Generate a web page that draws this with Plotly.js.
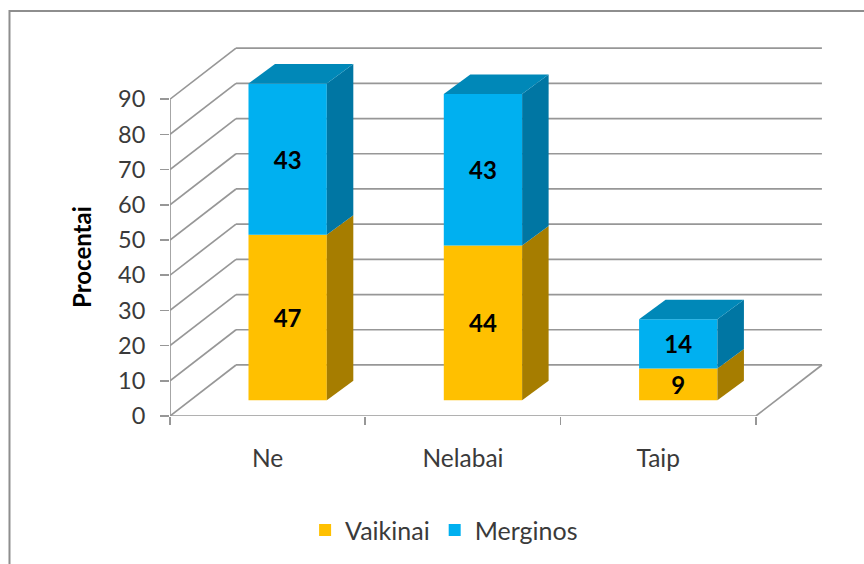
<!DOCTYPE html>
<html>
<head>
<meta charset="utf-8">
<script src="https://cdn.plot.ly/plotly-3.0.1.min.js"></script>
<style>html,body{margin:0;padding:0;background:#fff;overflow:hidden}#c{width:864px;height:564px}</style>
</head>
<body>
<div id="c"></div>
<script>
var categories = ['Ne', 'Nelabai', 'Taip'];
var vaikinai = [47, 44, 9];
var merginos = [43, 43, 14];
var yTicks = [0, 10, 20, 30, 40, 50, 60, 70, 80, 90];
var xBoundaries = [0, 1, 2, 3];
var xCenters = [0.5, 1.5, 2.5];

// oblique projection of the depth axis, in axis units
var wallDX = 0.338, wallDY = 14.5;
var frontDX = 0.1024, frontDY = 4.46;
var depthDX = 0.1357, depthDY = 5.54;
var barWidth = 0.401;
var gridColor = '#979797';
var textColor = '#3a3a3a';
var fontName = 'Lato, Carlito, sans-serif';

var barX = xCenters.map(function (c) { return c + frontDX; });
var base1 = vaikinai.map(function () { return frontDY; });
var base2 = vaikinai.map(function (v) { return v + frontDY; });
var top2 = merginos.map(function (v, i) { return base2[i] + v; });

function gline(x0, y0, x1, y1) {
  return {type: 'line', xref: 'x', yref: 'y', x0: x0, y0: y0, x1: x1, y1: y1, layer: 'below',
          line: {color: gridColor, width: 1.7}};
}
var shapes = [];
yTicks.forEach(function (v) {
  shapes.push(gline(0, v, wallDX, v + wallDY));
  shapes.push(gline(wallDX, v + wallDY, 3 + wallDX, v + wallDY));
});
shapes.push(gline(0, 0, 0, 90));
shapes.push(gline(0, 0, 3, 0));
shapes.push(gline(3, 0, 3 + wallDX, wallDY));
shapes.push({type: 'rect', xref: 'paper', yref: 'paper', x0: -0.2458, x1: 1.2, y0: -0.6, y1: 1.0976, layer: 'below',
             line: {color: '#8e8e8e', width: 2}, fillcolor: 'rgba(0,0,0,0)'});

function poly(xs, ys, color) {
  return {type: 'scatter', mode: 'lines', x: xs, y: ys, fill: 'toself', fillcolor: color,
          line: {width: 0, color: color}, hoverinfo: 'skip', showlegend: false};
}
function sideFace(i, lo, hi, color) {
  var r = barX[i] + barWidth / 2;
  return poly([r, r + depthDX, r + depthDX, r, r], [lo, lo + depthDY, hi + depthDY, hi, lo], color);
}
function topFace(i, h, color) {
  var l = barX[i] - barWidth / 2, r = barX[i] + barWidth / 2;
  return poly([l, r, r + depthDX, l + depthDX, l], [h, h, h + depthDY, h + depthDY, h], color);
}

var traces = [
  {type: 'bar', name: 'Vaikinai', x: barX, y: vaikinai, base: base1, width: barWidth,
   marker: {color: '#FFC000', line: {width: 0}}, text: vaikinai.map(String), textposition: 'inside',
   insidetextanchor: 'middle', textangle: 0, constraintext: 'none',
   insidetextfont: {family: fontName, size: 24, color: '#000', weight: 'bold'}, hoverinfo: 'skip'},
  {type: 'bar', name: 'Merginos', x: barX, y: merginos, base: base2, width: barWidth,
   marker: {color: '#00B0F0', line: {width: 0}}, text: merginos.map(String), textposition: 'inside',
   insidetextanchor: 'middle', textangle: 0, constraintext: 'none',
   insidetextfont: {family: fontName, size: 24, color: '#000', weight: 'bold'}, hoverinfo: 'skip'}
];
categories.forEach(function (c, i) {
  traces.push(sideFace(i, base1[i], base2[i], '#A67D00'));
  traces.push(sideFace(i, base2[i], top2[i], '#0076A3'));
  traces.push(topFace(i, top2[i], '#0088B8'));
});

var layout = {
  width: 864, height: 564,
  margin: {l: 170, r: 41, t: 47, b: 148},
  paper_bgcolor: '#fff', plot_bgcolor: '#fff',
  barmode: 'overlay',
  shapes: shapes,
  showlegend: true,
  legend: {orientation: 'h', x: 0.514, xref: 'container', xanchor: 'center', y: 0.06, yref: 'container', yanchor: 'middle',
           traceorder: 'normal', font: {family: fontName, size: 25, color: textColor}},
  xaxis: {range: [0, 653 / 195.3], tickmode: 'array', tickvals: xCenters, ticktext: categories,
          ticks: '', ticklen: 0, showgrid: false, zeroline: false, showline: false,
          ticklabelstandoff: 25, tickfont: {family: fontName, size: 24.5, color: textColor},
          minor: {ticks: 'outside', tickmode: 'array', tickvals: xBoundaries, ticklen: 8, tickwidth: 1.7, tickcolor: gridColor, showgrid: false}},
  yaxis: {range: [0, 369 / 3.52], tickmode: 'array', tickvals: yTicks, ticks: 'outside', ticklen: 9,
          tickwidth: 1.7, tickcolor: gridColor, showgrid: false, zeroline: false, showline: false,
          ticklabelstandoff: 10,
          tickfont: {family: fontName, size: 23.5, color: textColor}},
  annotations: [{text: 'Procentai', xref: 'paper', yref: 'paper', x: -0.1348, y: 0.4309, xanchor: 'center', yanchor: 'middle',
                 textangle: -90, showarrow: false, font: {family: fontName, size: 24, color: '#000', weight: 'bold'}}]
};
Plotly.newPlot('c', traces, layout, {displayModeBar: false, staticPlot: true});
</script>
</body>
</html>
